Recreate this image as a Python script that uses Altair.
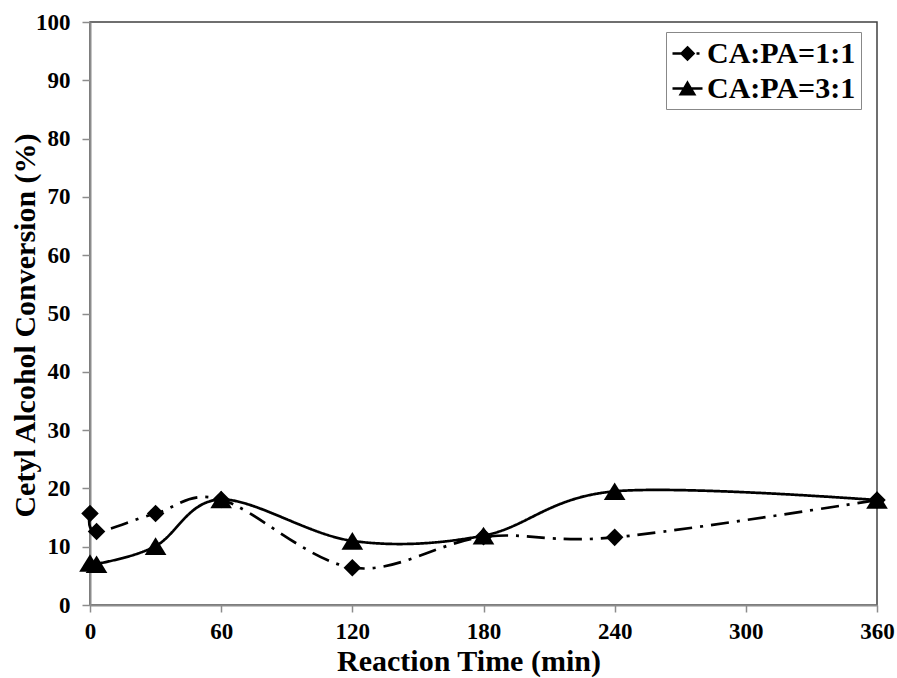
import altair as alt
import pandas as pd

# ---- data ----
time_min = [0, 3, 30, 60, 120, 180, 240, 360]
conv_11 = [15.7, 12.6, 15.7, 18.1, 6.4, 11.7, 11.6, 18.0]
conv_31 = [7.2, 7.0, 10.1, 18.1, 11.0, 11.9, 19.5, 18.0]
series_names = ["CA:PA=1:1", "CA:PA=3:1"]
x_ticks = [0, 60, 120, 180, 240, 300, 360]
y_ticks = list(range(0, 101, 10))

df = pd.DataFrame({
    "time": time_min + time_min,
    "conv": conv_11 + conv_31,
    "series": [series_names[0]] * len(time_min) + [series_names[1]] * len(time_min),
})

FONT = "Liberation Serif"
AXIS_GRAY = "#8c8c8c"

x_enc = alt.X(
    "time:Q",
    scale=alt.Scale(domain=[0, 360], nice=False, zero=False),
    axis=alt.Axis(
        values=x_ticks, title="Reaction Time (min)", grid=False,
        labelFont=FONT, labelFontSize=23, labelFontWeight="bold", labelColor="black",
        labelPadding=8, labelFlush=False,
        tickSize=7, tickColor=AXIS_GRAY, tickWidth=1.5,
        domainColor=AXIS_GRAY, domainWidth=2,
        titleFont=FONT, titleFontSize=30, titleFontWeight="bold", titleColor="black",
        titleX=378.5, titleY=65.5, titleAlign="center", titleBaseline="alphabetic",
    ),
)
y_enc = alt.Y(
    "conv:Q",
    scale=alt.Scale(domain=[0, 100], nice=False),
    axis=alt.Axis(
        values=y_ticks, title="Cetyl Alcohol Conversion (%)", grid=False,
        labelFont=FONT, labelFontSize=23, labelFontWeight="bold", labelColor="black",
        labelPadding=12, labelFlush=False,
        tickSize=8, tickColor=AXIS_GRAY, tickWidth=1.5,
        domainColor=AXIS_GRAY, domainWidth=2,
        titleFont=FONT, titleFontSize=30, titleFontWeight="bold", titleColor="black",
        titleAngle=-90, titleX=-56, titleY=303, titleAlign="center", titleBaseline="alphabetic",
    ),
)

lines = alt.Chart(df).mark_line(
    interpolate="cardinal", tension=0, strokeWidth=2.7, color="black"
).encode(
    x=x_enc, y=y_enc,
    strokeDash=alt.StrokeDash(
        "series:N",
        scale=alt.Scale(domain=series_names, range=[[18, 8, 3, 8], [1, 0]]),
        legend=None,
    ),
)

marker_paths = ["M0,-0.81L0.81,0L0,0.81L-0.81,0Z", "M0,-0.81L1,0.81L-1,0.81Z"]
points = alt.Chart(df).mark_point(
    filled=True, color="black", opacity=1, size=470
).encode(
    x=x_enc, y=y_enc,
    shape=alt.Shape("series:N", scale=alt.Scale(domain=series_names, range=marker_paths), legend=None),
)

legend_paths = [
    "M-1,0L-0.4,0M0,-0.4L0.4,0L0,0.4L-0.4,0ZM0.6,0L0.8,0",
    "M-1,0L1,0M0,-0.38L0.45,0.38L-0.45,0.38Z",
]
legend_layer = alt.Chart(df).transform_filter("false").mark_point(
    filled=True, color="black", fill="black", stroke="black", opacity=1, strokeWidth=2.5
).encode(
    x=x_enc, y=y_enc,
    shape=alt.Shape(
        "series:N",
        scale=alt.Scale(domain=series_names, range=legend_paths),
        legend=alt.Legend(
            title=None, orient="none", legendX=576, legendY=10,
            fillColor="white", strokeColor="#888888", padding=5, rowPadding=3,
            symbolSize=900, symbolStrokeWidth=2.5, symbolOpacity=1,
            labelFont=FONT, labelFontSize=30, labelFontWeight="bold", labelColor="black",
            labelOffset=3, labelLimit=400,
        ),
    ),
)

chart = alt.layer(lines, points, legend_layer).resolve_scale(shape="independent").properties(
    width=787, height=583,
    autosize=alt.AutoSizeParams(type="none"),
    padding={"left": 90, "top": 22, "right": 20, "bottom": 73},
    background="white",
).configure_view(stroke="#404040", strokeWidth=1.5)

chart.save("out.html", embed_options={"renderer": "svg", "actions": False})
